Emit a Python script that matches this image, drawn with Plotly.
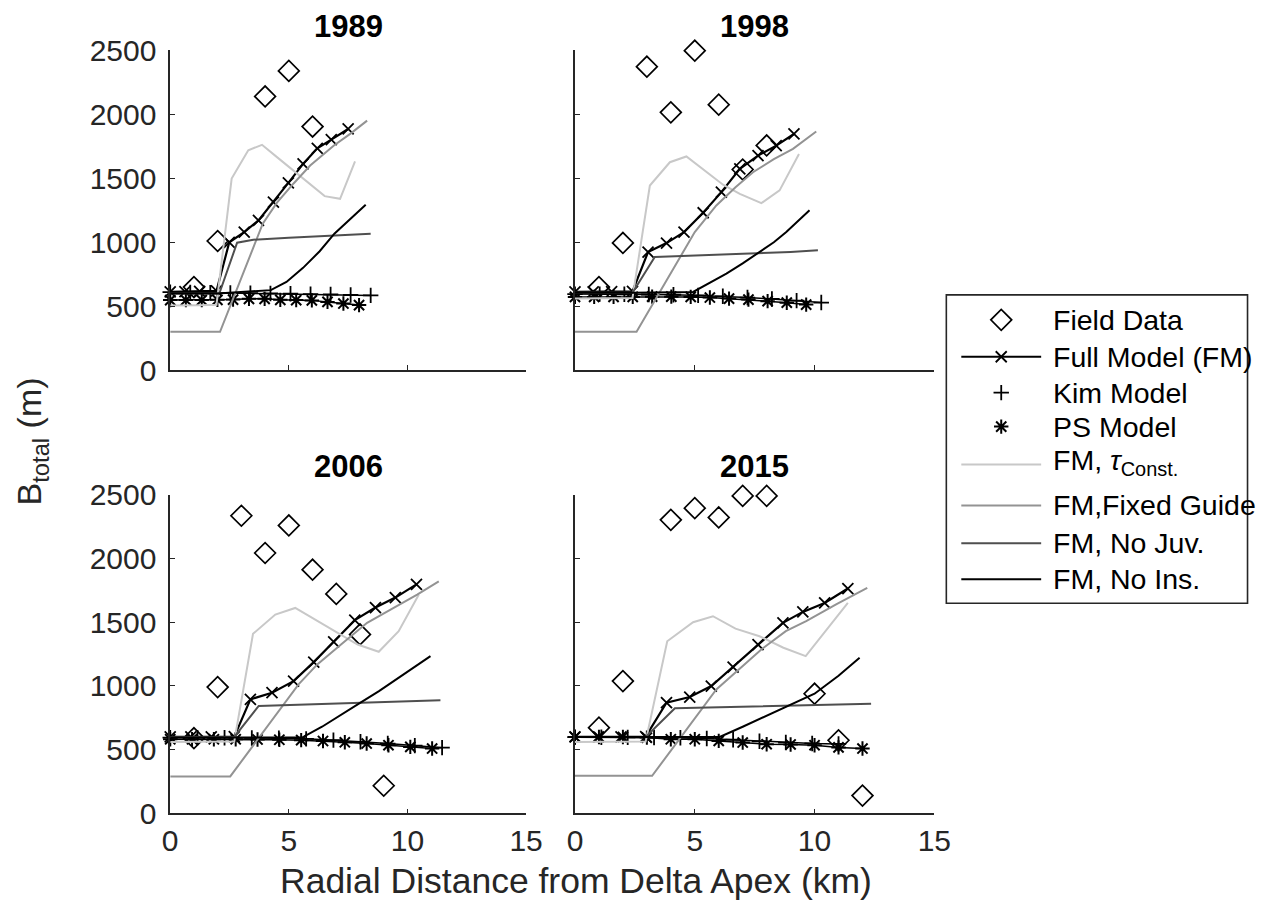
import plotly.graph_objects as go

W, H = 1266, 913
FONT = "Liberation Sans, Arial, Helvetica, sans-serif"
AX = "#262626"

years = ["1989", "1998", "2006", "2015"]

# ---------------- 1989 ----------------
field_x_1989 = [1, 2, 4, 5, 6]
field_y_1989 = [650, 1010, 2140, 2340, 1905]
fm_x_1989 = [0, 0.62, 1.24, 1.95, 2.49, 3.12, 3.72, 4.35, 4.98, 5.6, 6.2, 6.79, 7.5]
fm_y_1989 = [612, 614, 616, 620, 1000, 1080, 1171, 1314, 1465, 1613, 1735, 1803, 1886]
tau_x_1989 = [0, 0.62, 1.24, 1.95, 2.59, 3.29, 3.87, 4.5, 5.22, 5.85, 6.51, 7.16, 7.79]
tau_y_1989 = [505, 505, 508, 512, 1498, 1720, 1762, 1666, 1557, 1461, 1361, 1340, 1632]
guide_x_1989 = [0, 2.1, 3.9, 4.5, 5.2, 5.9, 6.9, 7.6, 8.3]
guide_y_1989 = [300, 300, 1145, 1310, 1460, 1600, 1757, 1850, 1951]
juv_x_1989 = [0, 2.07, 2.82, 3.5, 5.0, 6.5, 8.45]
juv_y_1989 = [600, 600, 997, 1020, 1035, 1050, 1067]
ins_x_1989 = [0, 2.0, 4.24, 4.9, 5.6, 6.3, 6.92, 7.6, 8.24]
ins_y_1989 = [600, 600, 626, 690, 800, 930, 1067, 1180, 1293]
kim_x_1989 = [0, 0.845, 1.69, 2.535, 3.38, 4.225, 5.07, 5.915, 6.76, 7.605, 8.45]
kim_y_1989 = [610, 608, 606, 604, 602, 600, 598, 595, 592, 588, 585]
ps_x_1989 = [0, 0.66, 1.33, 1.99, 2.65, 3.32, 3.98, 4.64, 5.31, 5.97, 6.63, 7.3, 7.96]
ps_y_1989 = [548, 548, 548, 550, 552, 558, 558, 550, 548, 546, 534, 521, 509]

# ---------------- 1998 ----------------
field_x_1998 = [1, 2, 3, 4, 5, 6, 7, 8]
field_y_1998 = [650, 995, 2373, 2016, 2498, 2076, 1569, 1757]
fm_x_1998 = [0, 0.76, 1.53, 2.4, 3.05, 3.82, 4.55, 5.35, 6.11, 6.88, 7.64, 8.4, 9.14]
fm_y_1998 = [612, 612, 614, 616, 924, 994, 1080, 1231, 1392, 1574, 1678, 1756, 1847]
tau_x_1998 = [0, 0.76, 1.53, 2.4, 3.125, 3.96, 4.65, 5.4, 6.18, 6.88, 7.78, 8.54, 9.35]
tau_y_1998 = [560, 560, 560, 565, 1444, 1626, 1671, 1565, 1450, 1379, 1306, 1406, 1691]
guide_x_1998 = [0, 2.57, 5.0, 5.9, 6.7, 7.43, 8.3, 9.1, 10.07]
guide_y_1998 = [300, 300, 1080, 1288, 1430, 1548, 1650, 1730, 1866]
juv_x_1998 = [0, 2.4, 3.33, 5.0, 7.0, 9.0, 10.14]
juv_y_1998 = [605, 605, 885, 895, 910, 925, 937]
ins_x_1998 = [0, 2.4, 4.93, 5.6, 6.32, 7.0, 7.71, 8.3, 8.82, 9.3, 9.79]
ins_y_1998 = [605, 605, 612, 680, 755, 835, 924, 1000, 1080, 1165, 1250]
kim_x_1998 = [0, 1.03, 2.06, 3.08, 4.11, 5.14, 6.17, 7.2, 8.22, 9.25, 10.28]
kim_y_1998 = [595, 595, 594, 592, 590, 585, 578, 568, 557, 544, 529]
ps_x_1998 = [0, 0.8, 1.61, 2.41, 3.22, 4.02, 4.83, 5.63, 6.43, 7.24, 8.04, 8.84, 9.65]
ps_y_1998 = [573, 573, 573, 573, 575, 575, 573, 568, 560, 552, 540, 528, 513]

# ---------------- 2006 ----------------
field_x_2006 = [1, 2, 3, 4, 5, 6, 7, 8, 9]
field_y_2006 = [590, 991, 2335, 2043, 2259, 1912, 1722, 1404, 217]
fm_x_2006 = [0, 0.87, 1.73, 2.7, 3.38, 4.29, 5.2, 6.05, 6.89, 7.78, 8.65, 9.49, 10.38]
fm_y_2006 = [600, 600, 600, 602, 895, 947, 1038, 1187, 1346, 1516, 1615, 1693, 1797]
tau_x_2006 = [0, 0.87, 1.73, 2.7, 3.49, 4.43, 5.27, 6.1, 7.0, 7.9, 8.79, 9.63, 10.48]
tau_y_2006 = [560, 560, 560, 565, 1409, 1560, 1612, 1520, 1420, 1325, 1268, 1430, 1717]
guide_x_2006 = [0, 2.53, 5.41, 6.2, 7.3, 8.3, 9.4, 10.41, 11.32]
guide_y_2006 = [290, 290, 1012, 1169, 1340, 1495, 1610, 1717, 1821]
juv_x_2006 = [0, 2.7, 3.73, 6.0, 9.0, 11.39]
juv_y_2006 = [600, 600, 843, 855, 870, 887]
ins_x_2006 = [0, 2.7, 5.56, 6.4, 7.2, 8.02, 8.8, 9.6, 10.3, 10.97]
ins_y_2006 = [595, 595, 595, 680, 770, 869, 960, 1060, 1150, 1234]
kim_x_2006 = [0, 1.15, 2.29, 3.44, 4.58, 5.73, 6.88, 8.02, 9.17, 10.31, 11.46]
kim_y_2006 = [595, 595, 594, 592, 590, 585, 575, 562, 548, 532, 516]
ps_x_2006 = [0, 0.92, 1.84, 2.76, 3.68, 4.6, 5.52, 6.44, 7.36, 8.28, 9.2, 10.12, 11.04]
ps_y_2006 = [582, 582, 582, 582, 580, 578, 575, 568, 558, 548, 535, 522, 509]

# ---------------- 2015 ----------------
field_x_2015 = [1, 2, 4, 5, 6, 7, 8, 10, 11, 12]
field_y_2015 = [673, 1038, 2303, 2395, 2322, 2491, 2491, 939, 574, 140]
fm_x_2015 = [0, 0.97, 1.92, 2.95, 3.82, 4.79, 5.69, 6.6, 7.64, 8.68, 9.51, 10.42, 11.39]
fm_y_2015 = [600, 600, 600, 602, 869, 913, 999, 1148, 1325, 1495, 1581, 1651, 1764]
tau_x_2015 = [0, 0.97, 1.92, 2.95, 3.85, 4.93, 5.76, 6.7, 7.7, 8.7, 9.63, 10.5, 11.39]
tau_y_2015 = [560, 560, 560, 565, 1351, 1500, 1547, 1450, 1390, 1300, 1234, 1440, 1651]
guide_x_2015 = [0, 3.22, 5.9, 6.8, 7.8, 8.8, 9.65, 10.9, 12.2]
guide_y_2015 = [295, 295, 973, 1120, 1290, 1430, 1508, 1640, 1769]
juv_x_2015 = [0, 2.95, 4.17, 7.0, 10.0, 12.36]
juv_y_2015 = [600, 600, 825, 838, 850, 861]
ins_x_2015 = [0, 2.95, 6.04, 7.0, 8.0, 9.0, 10.0, 11.0, 11.88]
ins_y_2015 = [600, 600, 600, 680, 765, 850, 939, 1080, 1221]
kim_x_2015 = [0, 1.1, 2.2, 3.3, 4.4, 5.5, 6.6, 7.7, 8.8, 9.9, 11.0]
kim_y_2015 = [598, 598, 597, 596, 594, 588, 578, 566, 556, 549, 545]
ps_x_2015 = [0, 1, 2, 3, 4, 5, 6, 7, 8, 9, 10, 11, 12]
ps_y_2015 = [600, 600, 600, 595, 582, 582, 569, 556, 543, 541, 535, 518, 509]

x_ticks = [0, 5, 10, 15]
y_ticks = [0, 500, 1000, 1500, 2000, 2500]

panels = {
    "1989": dict(field=(field_x_1989, field_y_1989), fm=(fm_x_1989, fm_y_1989),
                 kim=(kim_x_1989, kim_y_1989), ps=(ps_x_1989, ps_y_1989),
                 tau=(tau_x_1989, tau_y_1989), guide=(guide_x_1989, guide_y_1989),
                 juv=(juv_x_1989, juv_y_1989), ins=(ins_x_1989, ins_y_1989)),
    "1998": dict(field=(field_x_1998, field_y_1998), fm=(fm_x_1998, fm_y_1998),
                 kim=(kim_x_1998, kim_y_1998), ps=(ps_x_1998, ps_y_1998),
                 tau=(tau_x_1998, tau_y_1998), guide=(guide_x_1998, guide_y_1998),
                 juv=(juv_x_1998, juv_y_1998), ins=(ins_x_1998, ins_y_1998)),
    "2006": dict(field=(field_x_2006, field_y_2006), fm=(fm_x_2006, fm_y_2006),
                 kim=(kim_x_2006, kim_y_2006), ps=(ps_x_2006, ps_y_2006),
                 tau=(tau_x_2006, tau_y_2006), guide=(guide_x_2006, guide_y_2006),
                 juv=(juv_x_2006, juv_y_2006), ins=(ins_x_2006, ins_y_2006)),
    "2015": dict(field=(field_x_2015, field_y_2015), fm=(fm_x_2015, fm_y_2015),
                 kim=(kim_x_2015, kim_y_2015), ps=(ps_x_2015, ps_y_2015),
                 tau=(tau_x_2015, tau_y_2015), guide=(guide_x_2015, guide_y_2015),
                 juv=(juv_x_2015, juv_y_2015), ins=(ins_x_2015, ins_y_2015)),
}

# series styling
C_TAU, C_GUIDE, C_JUV, C_INS = "#c8c8c8", "#939393", "#4f4f4f", "#000000"
STYLE = {
    "field": dict(mode="markers", marker=dict(symbol="diamond-open", size=16, color="black",
                                              line=dict(width=1.7, color="black"))),
    "fm": dict(mode="lines+markers", line=dict(color="black", width=2.2),
               marker=dict(symbol="x-thin-open", size=11, color="black",
                           line=dict(width=1.8, color="black"))),
    "kim": dict(mode="lines+markers", line=dict(color="black", width=1.5),
                marker=dict(symbol="cross-thin-open", size=11, color="black",
                            line=dict(width=1.8, color="black"))),
    "ps": dict(mode="lines+markers", line=dict(color="black", width=1.5),
               marker=dict(symbol="asterisk-open", size=12, color="black",
                           line=dict(width=2, color="black"))),
    "tau": dict(mode="lines", line=dict(color=C_TAU, width=2)),
    "guide": dict(mode="lines", line=dict(color=C_GUIDE, width=2)),
    "juv": dict(mode="lines", line=dict(color=C_JUV, width=2)),
    "ins": dict(mode="lines", line=dict(color=C_INS, width=2)),
}
ORDER = ["field", "fm", "kim", "ps", "tau", "guide", "juv", "ins"]

# screen position (px) -> figure px, for the rendered page inset
SX, OX = 0.982, 7.0
SY, OY = 0.966, 14.5


def fx(p):
    return min(max((p - OX) / SX, 0.0), W) / W


def fy(p):
    return 1 - min(max((p - OY) / SY, 0.0), H) / H


# subplot frames in screen px: (left, right), (top, bottom), title centre
X_LEFT, X_RIGHT = (169.5, 526.0), (575.0, 935.0)
Y_TOP, Y_BOT = (48.0, 368.5), (493.3, 812.7)
frames = {
    "1989": (X_LEFT, Y_TOP, 24.0), "1998": (X_RIGHT, Y_TOP, 24.0),
    "2006": (X_LEFT, Y_BOT, 465.0), "2015": (X_RIGHT, Y_BOT, 465.0),
}

fig = go.Figure()
layout = dict(width=W, height=H, margin=dict(l=0, r=0, t=0, b=0),
              paper_bgcolor="white", plot_bgcolor="rgba(0,0,0,0)",
              showlegend=False, font=dict(family=FONT, color=AX))
annotations, shapes = [], []

for i, yr in enumerate(years, start=1):
    (xl, xr), (yt, yb), ty = frames[yr]
    xa, ya = ("x" if i == 1 else f"x{i}"), ("y" if i == 1 else f"y{i}")
    for key in ORDER:
        xs, ys = panels[yr][key]
        fig.add_trace(go.Scatter(x=xs, y=ys, xaxis=xa, yaxis=ya, cliponaxis=False,
                                 hoverinfo="skip", **STYLE[key]))
    common = dict(showline=True, linecolor=AX, linewidth=1.6, ticks="inside", ticklen=5,
                  tickwidth=1.4, tickcolor=AX, showgrid=False, zeroline=False,
                  tickfont=dict(size=30, color=AX, family=FONT), fixedrange=True)
    layout["xaxis" if i == 1 else f"xaxis{i}"] = dict(
        domain=[fx(xl), fx(xr)], range=[0, 15], tickvals=x_ticks,
        anchor=ya, showticklabels=yr in ("2006", "2015"), ticklabelstandoff=0, **common)
    layout["yaxis" if i == 1 else f"yaxis{i}"] = dict(
        domain=[fy(yb), fy(yt)], range=[0, 2500], tickvals=y_ticks,
        anchor=xa, showticklabels=yr in ("1989", "2006"), ticklabelstandoff=6, **common)
    annotations.append(dict(text=f"<b>{yr}</b>", x=fx((xl + xr) / 2), y=fy(ty),
                            xref="paper", yref="paper", showarrow=False,
                            xanchor="center", yanchor="middle",
                            font=dict(size=31, color="black", family=FONT)))

# shared axis titles
annotations.append(dict(text="Radial Distance from Delta Apex (km)", x=fx(576), y=fy(880),
                        xref="paper", yref="paper", showarrow=False, xanchor="center",
                        yanchor="middle", font=dict(size=35.5, color=AX, family=FONT)))
annotations.append(dict(text="B<sub>total</sub> (m)", x=fx(31), y=fy(440),
                        xref="paper", yref="paper", showarrow=False, textangle=-90,
                        xanchor="center", yanchor="middle",
                        font=dict(size=34, color=AX, family=FONT)))

# legend box with hand-placed keys
LEG_BOX = (947, 1255, 293, 602)
LEG_LINE = (962, 1042)
LEG_TEXT_X = 1052
legend_rows = [
    ("field", "Field Data", 318),
    ("fm", "Full Model (FM)", 355),
    ("kim", "Kim Model", 391),
    ("ps", "PS Model", 425),
    ("tau", "FM, <i>τ</i><sub>Const.</sub>", 460),
    ("guide", "FM,Fixed Guide", 504),
    ("juv", "FM, No Juv.", 542),
    ("ins", "FM, No Ins.", 578),
]
shapes.append(dict(type="rect", xref="paper", yref="paper",
                   x0=fx(LEG_BOX[0]), x1=min(fx(LEG_BOX[1]), 1 - 1.5 / W),
                   y0=fy(LEG_BOX[3]), y1=fy(LEG_BOX[2]),
                   line=dict(color=AX, width=1.6), fillcolor="white", layer="below"))
# full-figure overlay axes used only for the legend keys (paper fractions)
layout["xaxis5"] = dict(domain=[0, 1], range=[0, 1], visible=False, fixedrange=True)
layout["yaxis5"] = dict(domain=[0, 1], range=[0, 1], visible=False, fixedrange=True,
                        anchor="x5")
mid = (LEG_LINE[0] + LEG_LINE[1]) / 2
for key, label, ry in legend_rows:
    st = STYLE[key]
    if key in ("fm", "tau", "guide", "juv", "ins"):
        ly = ry + 3 if key == "tau" else ry
        fig.add_trace(go.Scatter(x=[fx(LEG_LINE[0]), fx(LEG_LINE[1])], y=[fy(ly), fy(ly)],
                                 mode="lines", line=st["line"], xaxis="x5", yaxis="y5",
                                 hoverinfo="skip", cliponaxis=False))
    if "marker" in st:
        fig.add_trace(go.Scatter(x=[fx(mid)], y=[fy(ry)], mode="markers", marker=st["marker"],
                                 xaxis="x5", yaxis="y5", hoverinfo="skip", cliponaxis=False))
    annotations.append(dict(text=label, x=fx(LEG_TEXT_X), y=fy(ry), xref="paper",
                            yref="paper", showarrow=False, xanchor="left", yanchor="middle",
                            font=dict(size=28.5, color="black", family=FONT)))

layout["annotations"] = annotations
layout["shapes"] = shapes
fig.update_layout(**layout)
fig.write_html("out.html")
